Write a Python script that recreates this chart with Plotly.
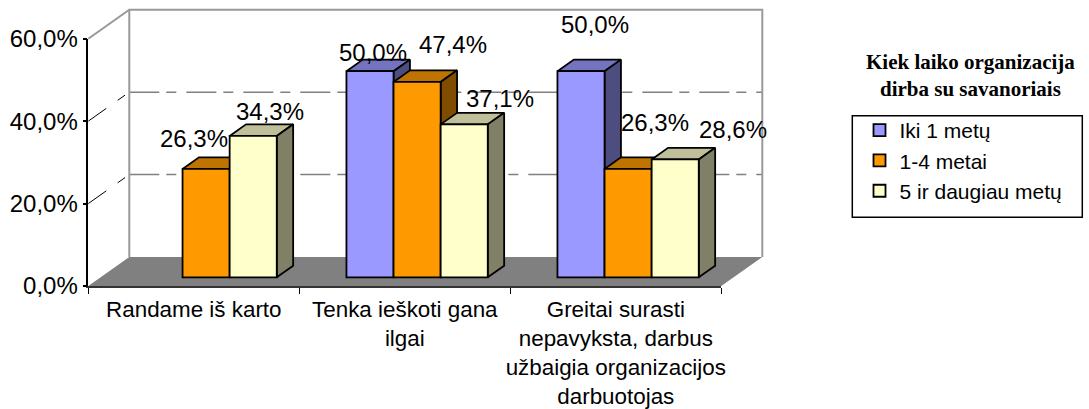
import plotly.graph_objects as go

categories = ["Randame iš karto", "Tenka ieškoti gana<br>ilgai",
              "Greitai surasti<br>nepavyksta, darbus<br>užbaigia organizacijos<br>darbuotojas"]
series_names = ["Iki 1 metų", "1-4 metai", "5 ir daugiau metų"]
iki_1 = [None, 50.0, 50.0]
m1_4 = [26.3, 47.4, 26.3]
m5_plus = [34.3, 37.1, 28.6]
series_values = [iki_1, m1_4, m5_plus]
y_ticks = [0, 20, 40, 60]
y_tick_labels = ["0,0%", "20,0%", "40,0%", "60,0%"]
legend_title = "Kiek laiko organizacija<br>dirba su savanoriais"

front_colors = ["#9999FF", "#FF9900", "#FFFFCC"]
top_colors = ["#7373BF", "#BF7300", "#BFBF99"]
side_colors = ["#4D4D80", "#804D00", "#808066"]

W, H = 1089, 409
AX_L, AX_R, AX_T, AX_B = 88.3, 721.3, 38.7, 286.0
PX_X = (AX_R - AX_L) / 3
PX_Y = (AX_B - AX_T) / 60
DX = 41 / PX_X      # depth vector of the 3D box, in data units
DY = 29 / PX_Y
BAR_W = 47.1 / PX_X
D0, D1 = 0.30, 0.70
XL, XR = -0.5, 2.5

# pixel nudges of hand-placed data labels (series, category) -> (dx, dy up)
label_shift = {
    (1, 0): (-12, 30.7), (2, 0): (17, 24),
    (0, 1): (2.5, 19), (1, 1): (35.5, 37.5), (2, 1): (35.7, 26),
    (0, 2): (13.6, 46.6), (1, 2): (26.5, 46), (2, 2): (57.7, 30),
}


def proj(x, y, d):
    return x + DX * d, y + DY * d


def poly(points, fill, line=None, width=1.8, dash=None, closed=True):
    xs, ys = zip(*points)
    return go.Scatter(
        x=list(xs), y=list(ys), mode="lines", showlegend=False,
        hoverinfo="skip", fill="toself" if closed else "none",
        fillcolor=fill, line=dict(color=line or "rgba(0,0,0,0)", width=width, dash=dash),
    )


fig = go.Figure()

# floor
fig.add_trace(poly([proj(XL, 0, 0), proj(XR, 0, 0), proj(XR, 0, 1), proj(XL, 0, 1), proj(XL, 0, 0)], "#808080"))
# grid lines on walls
for v in y_ticks[1:3]:
    fig.add_trace(poly([proj(XL, v, 1), proj(XR, v, 1)], "rgba(0,0,0,0)", "#808080", 1.5,
                       "30px,7px,10px,10px", closed=False))
    fig.add_trace(poly([proj(XL, v, 0), proj(XL, v, 1)], "rgba(0,0,0,0)", "#000000", 1,
                       "22px,14px,9px", closed=False))
# wall outline
fig.add_trace(poly([proj(XL, 60, 0), proj(XL, 60, 1), proj(XR, 60, 1), proj(XR, 0, 1)],
                   "rgba(0,0,0,0)", "#999999", 2, closed=False))
fig.add_trace(poly([proj(XL, 0, 1), proj(XL, 60, 1)], "rgba(0,0,0,0)", "#999999", 2, closed=False))

# bar tops and sides
for s, vals in enumerate(series_values):
    for c, v in enumerate(vals):
        if v is None:
            continue
        x0 = c + (s - 1.5) * BAR_W
        x1 = x0 + BAR_W
        fig.add_trace(poly([proj(x0, v, D0), proj(x1, v, D0), proj(x1, v, D1), proj(x0, v, D1), proj(x0, v, D0)],
                           top_colors[s], "#000000"))
        fig.add_trace(poly([proj(x1, 0, D0), proj(x1, v, D0), proj(x1, v, D1), proj(x1, 0, D1), proj(x1, 0, D0)],
                           side_colors[s], "#000000"))

# bar fronts on a later subplot so they sit above every top and side
for s, vals in enumerate(series_values):
    fig.add_trace(go.Bar(
        x=list(range(len(categories))), y=vals, base=DY * D0, name=series_names[s],
        width=BAR_W, offset=(s - 1.5) * BAR_W + DX * D0,
        marker=dict(color=front_colors[s], line=dict(color="#000000", width=1.8)),
        xaxis="x2", yaxis="y2", legendgroup=series_names[s], hoverinfo="skip",
    ))

# data labels
for s, vals in enumerate(series_values):
    for c, v in enumerate(vals):
        if v is None:
            continue
        dx, dy = label_shift[(s, c)]
        bx, by = proj(c + (s - 1) * BAR_W, v, D0)
        fig.add_annotation(x=bx, y=by, xref="x", yref="y", text=f"{v:.1f}%".replace(".", ","),
                           showarrow=False, xshift=dx, yshift=dy,
                           font=dict(family="Liberation Sans", size=24, color="#000000"))

fig.add_annotation(x=970 / W, y=1 - 76 / H, xref="paper", yref="paper", text=f"<b>{legend_title}</b>",
                   xanchor="center", yanchor="middle", showarrow=False,
                   font=dict(family="Liberation Serif", size=21, color="#000000"))
# legend frame
fig.add_shape(type="rect", xref="paper", yref="paper", x0=852.3 / W, x1=1082.3 / W,
              y0=1 - 217.3 / H, y1=1 - 115.7 / H, line=dict(color="#000000", width=1.5))

# xaxis/yaxis fill the canvas at the same data scale as the framed axes x2/y2
full_x = [XL - AX_L / PX_X, XL + (W - AX_L) / PX_X]
full_y = [-(H - AX_B) / PX_Y, AX_B / PX_Y]
dom_x = [AX_L / W, AX_R / W]
dom_y = [1 - AX_B / H, 1 - AX_T / H]
fig.update_layout(
    width=W, height=H, margin=dict(l=0, r=0, t=0, b=0, autoexpand=False), autosize=False,
    paper_bgcolor="#FFFFFF", plot_bgcolor="rgba(0,0,0,0)", barmode="overlay",
    font=dict(family="Liberation Sans", color="#000000"),
    xaxis=dict(domain=[0, 1], range=full_x, visible=False),
    yaxis=dict(domain=[0, 1], range=full_y, visible=False),
    xaxis2=dict(domain=dom_x, range=[XL, XR], anchor="y2", tickvals=list(range(len(categories))), ticktext=categories,
                showgrid=False, zeroline=False, ticks="", tickangle=0, showline=True, linecolor="#333333", linewidth=2,
                tickfont=dict(size=22.4), ticklabelstandoff=2,
                minor=dict(tickmode="array", tickvals=[-0.5, 0.5, 1.5, 2.5], ticks="outside", ticklen=6,
                           tickcolor="#000000", tickwidth=1, showgrid=False)),
    yaxis2=dict(domain=dom_y, range=[0, 60], anchor="x2", tickvals=y_ticks, ticktext=y_tick_labels,
                showgrid=False, zeroline=False, ticks="outside", ticklen=4, tickcolor="#000000", tickwidth=1.5,
                showline=True, linecolor="#000000", linewidth=1.5, tickfont=dict(size=24)),
    legend=dict(x=859.5 / W, y=1 - 110 / H, xanchor="left", yanchor="top", bgcolor="rgba(0,0,0,0)",
                font=dict(size=21), tracegroupgap=12, traceorder="normal", itemclick=False, itemdoubleclick=False),
    showlegend=True,
)
fig.write_html("out.html", post_script="document.body.style.margin='0';", config={"displayModeBar": False})
